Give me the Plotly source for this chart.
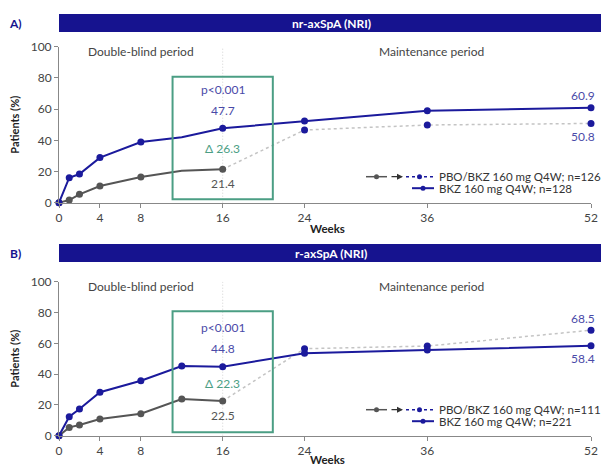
import plotly.graph_objects as go

W, H = 601, 466
FONT = "Lato"
NAVY = "#16138f"
BLUE = "#1b1a9c"
GREY = "#555555"
LGREY = "#c4c4c4"
GREEN = "#4b9e84"
LBLUE = "#4a4aa8"

# ---------------- data ----------------
weeks_db = [0, 1, 2, 4, 8, 12, 16]
weeks_mp = [16, 24, 36, 52]
weeks_bkz = [0, 1, 2, 4, 8, 12, 16, 24, 36, 52]
x_ticks = [0, 4, 8, 16, 24, 36, 52]
y_ticks = [0, 20, 40, 60, 80, 100]

# Panel A: nr-axSpA
a_pbo = [0, 1.7, 5.4, 10.7, 16.5, 20.5, 21.4]
a_pbo_bkz = [21.4, 46.6, 49.8, 50.8]
a_bkz = [0, 16.0, 18.4, 28.9, 38.9, 41.9, 47.7, 52.4, 59.0, 60.9]
a_pbo_marker = [7, 7, 7, 7, 7, 0, 7]
a_bkz_marker = [7, 7, 7, 7, 7, 0, 7, 7, 7, 7]

# Panel B: r-axSpA
b_pbo = [0, 5.4, 6.9, 10.8, 14.3, 23.8, 22.5]
b_pbo_bkz = [22.5, 56.5, 58.2, 68.5]
b_bkz = [0, 12.3, 17.3, 28.2, 35.7, 45.3, 44.8, 53.5, 55.6, 58.4]
b_pbo_marker = [7, 7, 7, 7, 7, 7, 7]
b_bkz_marker = [7, 7, 7, 7, 7, 7, 7, 7, 7, 7]

panels = [
    dict(tag="A)", title="nr-axSpA (NRI)", pbo=a_pbo, pbo_bkz=a_pbo_bkz, bkz=a_bkz,
         pbo_m=a_pbo_marker, bkz_m=a_bkz_marker, p="p<0.001", bkz16="47.7", delta="Δ 26.3",
         pbo16="21.4", n_pbo=126, n_bkz=128,
         y0px=202.7, y100px=46.7, bar=(14, 32), weeks_y=228),
    dict(tag="B)", title="r-axSpA (NRI)", pbo=b_pbo, pbo_bkz=b_pbo_bkz, bkz=b_bkz,
         pbo_m=b_pbo_marker, bkz_m=b_bkz_marker, p="p<0.001", bkz16="44.8", delta="Δ 22.3",
         pbo16="22.5", n_pbo=111, n_bkz=221,
         y0px=435.7, y100px=281.7, bar=(244, 262), weeks_y=459.5),
]

def fx(px):
    return px / W

def fy(py):
    return 1 - py / H

X0PX, X52PX = 59, 591

fig = go.Figure()
shapes = []
annotations = []

def ptext(x, y, text, size=12, color="#444", xanchor="center", **kw):
    d = dict(xref="paper", yref="paper", x=fx(x), y=fy(y), text=text, showarrow=False,
             xanchor=xanchor, yanchor="middle", font=dict(family=FONT, size=size, color=color))
    d.update(kw)
    annotations.append(d)

for i, P in enumerate(panels):
    xa = "x" if i == 0 else "x2"
    ya = "y" if i == 0 else "y2"
    xname = "xaxis" if i == 0 else "xaxis2"
    yname = "yaxis" if i == 0 else "yaxis2"

    fig.add_trace(go.Scatter(x=weeks_mp, y=P["pbo_bkz"], xaxis=xa, yaxis=ya, mode="lines+markers",
                             line=dict(color=LGREY, width=1.5, dash="dot"),
                             marker=dict(color=BLUE, size=[0, 7, 7, 7], opacity=1, line=dict(width=0)),
                             cliponaxis=False, showlegend=False, hoverinfo="skip"))
    fig.add_trace(go.Scatter(x=weeks_db, y=P["pbo"], xaxis=xa, yaxis=ya, mode="lines+markers",
                             line=dict(color=GREY, width=2),
                             marker=dict(color=GREY, size=P["pbo_m"], opacity=1, line=dict(width=0)),
                             cliponaxis=False, showlegend=False))
    fig.add_trace(go.Scatter(x=weeks_bkz, y=P["bkz"], xaxis=xa, yaxis=ya, mode="lines+markers",
                             line=dict(color=BLUE, width=2),
                             marker=dict(color=BLUE, size=P["bkz_m"], opacity=1, line=dict(width=0)),
                             cliponaxis=False, showlegend=False))

    fig.update_layout(**{
        xname: dict(domain=[fx(X0PX), fx(X52PX)], range=[0, 52], anchor=ya, automargin=False,
                    tickvals=x_ticks, ticks="outside", ticklen=4, tickcolor="#888",
                    showline=True, linecolor="#888", linewidth=1, showgrid=False, zeroline=False,
                    tickfont=dict(family=FONT, size=12, color="#444")),
        yname: dict(domain=[fy(P["y0px"]), fy(P["y100px"])], range=[0, 100], anchor=xa, automargin=False,
                    tickvals=y_ticks, ticks="outside", ticklen=4, tickcolor="#888",
                    showline=True, linecolor="#888", linewidth=1, showgrid=False, zeroline=False,
                    tickfont=dict(family=FONT, size=12, color="#444")),
    })

    # vertical dotted line at week 16
    shapes.append(dict(type="line", xref=xa, yref=ya, x0=16, x1=16, y0=0, y1=100,
                       line=dict(color="#d2d2d2", width=1, dash="1px,2px"), layer="below"))
    # green box
    shapes.append(dict(type="rect", xref=xa, yref=ya, x0=11.1, x1=20.9, y0=2.2, y1=80.8,
                       line=dict(color=GREEN, width=2)))
    # header bar
    b0, b1 = P["bar"]
    shapes.append(dict(type="rect", xref="paper", yref="paper", x0=fx(59), x1=fx(601),
                       y0=fy(b1), y1=fy(b0), fillcolor=NAVY, line=dict(width=0)))
    ptext(331, (b0 + b1) / 2, "<b>%s</b>" % P["title"], size=12, color="white")
    ptext(15, (b0 + b1) / 2, "<b>%s</b>" % P["tag"], size=12, color=NAVY)

    # period labels
    ty = P["y100px"] + 4.5
    ptext(141, ty, "Double-blind period", size=12, color="#444")
    ptext(431, ty, "Maintenance period", size=12, color="#444")

    # value labels
    def lab(x, y, text, color, yshift):
        annotations.append(dict(xref=xa, yref=ya, x=x, y=y, text=text, showarrow=False,
                                xanchor="center", yanchor="middle",
                                yshift=yshift, font=dict(family=FONT, size=12, color=color)))
    lab(16, P["bkz"][6], P["bkz16"], LBLUE, 18)
    lab(16, P["bkz"][6], P["p"], LBLUE, 18 + 21)
    lab(16, (P["bkz"][6] + P["pbo"][6]) / 2, P["delta"], GREEN, 0)
    lab(16, P["pbo"][6], P["pbo16"], GREY, -14)
    hi = max(P["bkz"][-1], P["pbo_bkz"][-1])
    lo = min(P["bkz"][-1], P["pbo_bkz"][-1])
    annotations.append(dict(xref=xa, yref=ya, x=52, y=hi, text="%.1f" % hi, showarrow=False,
                            yshift=12, xanchor="right", yanchor="middle", xshift=6,
                            font=dict(family=FONT, size=12, color=LBLUE)))
    annotations.append(dict(xref=xa, yref=ya, x=52, y=lo, text="%.1f" % lo, showarrow=False,
                            yshift=-13, xanchor="right", yanchor="middle", xshift=6,
                            font=dict(family=FONT, size=12, color=LBLUE)))

    # axis titles
    ptext(15, (P["y0px"] + P["y100px"]) / 2, "<b>Patients (%)</b>", size=11, color="#222", textangle=-90)
    ptext(327, P["weeks_y"], "<b>Weeks</b>", size=11.5, color="#222")

    # legend (manual glyphs)
    r1 = P["y0px"] - 26
    r2 = P["y0px"] - 14.5
    shapes.append(dict(type="line", xref="paper", yref="paper", x0=fx(366), x1=fx(387), y0=fy(r1), y1=fy(r1),
                       line=dict(color=GREY, width=1.5)))
    shapes.append(dict(type="circle", xref="paper", yref="paper", x0=fx(374), x1=fx(379), y0=fy(r1 + 2.5),
                       y1=fy(r1 - 2.5), fillcolor=GREY, line=dict(width=0)))
    annotations.append(dict(xref="paper", yref="paper", x=fx(403), y=fy(r1), ax=-13, ay=0,
                            axref="pixel", ayref="pixel", text="", showarrow=True,
                            arrowhead=2, arrowsize=1, arrowwidth=1.2, arrowcolor="#333"))
    shapes.append(dict(type="line", xref="paper", yref="paper", x0=fx(406), x1=fx(434), y0=fy(r1), y1=fy(r1),
                       line=dict(color=BLUE, width=1.5, dash="3px,3px")))
    shapes.append(dict(type="circle", xref="paper", yref="paper", x0=fx(417), x1=fx(422), y0=fy(r1 + 2.5),
                       y1=fy(r1 - 2.5), fillcolor=BLUE, line=dict(width=0)))
    shapes.append(dict(type="line", xref="paper", yref="paper", x0=fx(412), x1=fx(434), y0=fy(r2), y1=fy(r2),
                       line=dict(color=BLUE, width=2)))
    shapes.append(dict(type="circle", xref="paper", yref="paper", x0=fx(420.5), x1=fx(425.5), y0=fy(r2 + 2.5),
                       y1=fy(r2 - 2.5), fillcolor=BLUE, line=dict(width=0)))
    ptext(437, r1, "PBO/BKZ 160 mg Q4W; n=%d" % P["n_pbo"], size=11.5, color="#333", xanchor="left")
    ptext(437, r2, "BKZ 160 mg Q4W; n=%d" % P["n_bkz"], size=11.5, color="#333", xanchor="left")

fig.update_layout(width=W, height=H, margin=dict(l=0, r=0, t=0, b=0, pad=0, autoexpand=False),
                  template="none",
                  paper_bgcolor="white", plot_bgcolor="white",
                  shapes=shapes, annotations=annotations, showlegend=False,
                  font=dict(family=FONT))
fig.write_html("out.html")
